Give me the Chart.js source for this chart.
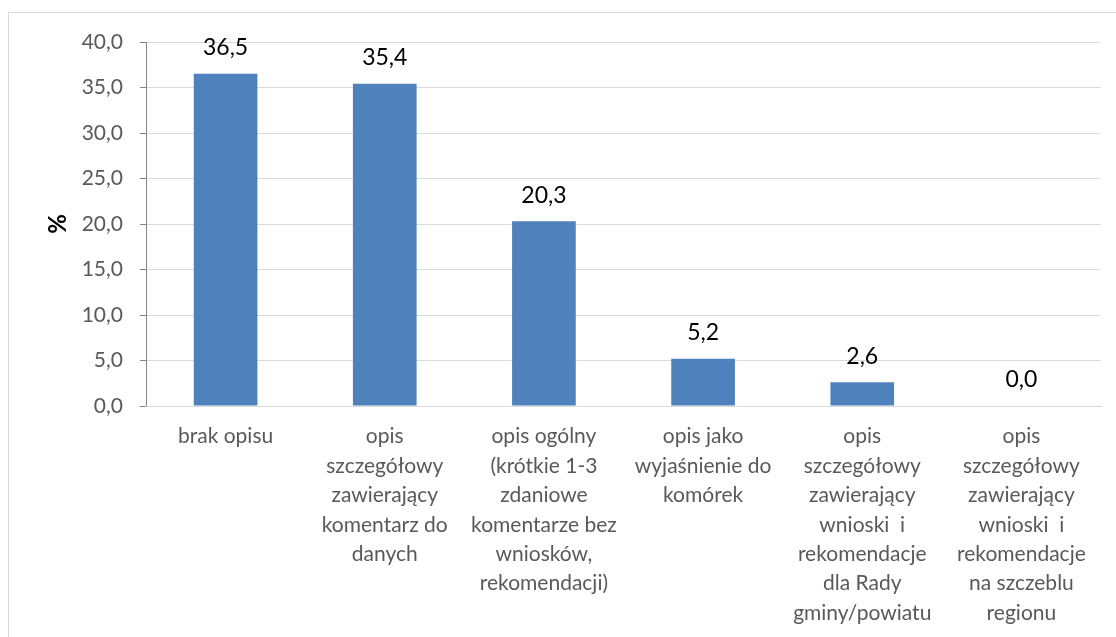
<!DOCTYPE html>
<html>
<head>
<meta charset="utf-8">
<script src="https://cdn.jsdelivr.net/npm/chart.js@4"></script>
<style>
html,body{margin:0;padding:0;background:#fff;}
#wrap{position:relative;width:1116px;height:637px;}
#frame{position:absolute;left:8px;top:12px;width:1120px;height:700px;border:1px solid #D9D9D9;box-sizing:border-box;}
canvas{position:absolute;left:0;top:0;}
</style>
</head>
<body>
<div id="wrap"><div id="frame"></div><canvas id="c" width="1116" height="637"></canvas></div>
<script>
const categories = [
  ["brak opisu"],
  ["opis", "szczegółowy", "zawierający", "komentarz do", "danych"],
  ["opis ogólny", "(krótkie 1-3", "zdaniowe", "komentarze bez", "wniosków,", "rekomendacji)"],
  ["opis jako", "wyjaśnienie do", "komórek"],
  ["opis", "szczegółowy", "zawierający", "wnioski  i", "rekomendacje", "dla Rady", "gminy/powiatu"],
  ["opis", "szczegółowy", "zawierający", "wnioski  i", "rekomendacje", "na szczeblu", "regionu"]
];
const values = [36.5, 35.4, 20.3, 5.2, 2.6, 0.0];
const yTicks = [0, 5, 10, 15, 20, 25, 30, 35, 40];
const yTitle = "%";

const fmt = v => v.toFixed(1).replace('.', ',');

const dataLabels = {
  id: 'dataLabels',
  afterDatasetsDraw(chart) {
    const ctx = chart.ctx;
    const meta = chart.getDatasetMeta(0);
    ctx.save();
    ctx.font = '23px Lato';
    ctx.fillStyle = '#000';
    ctx.textAlign = 'center';
    ctx.textBaseline = 'middle';
    meta.data.forEach((bar, i) => {
      ctx.fillText(fmt(values[i]), bar.x, bar.y - 26);
    });
    ctx.restore();
  }
};

new Chart(document.getElementById('c'), {
  type: 'bar',
  data: {
    labels: categories,
    datasets: [{
      data: values,
      backgroundColor: '#4F81BD',
      categoryPercentage: 1.0,
      barPercentage: 0.4
    }]
  },
  options: {
    responsive: false,
    animation: false,
    layout: { padding: { left: 0, top: 42, right: 15, bottom: 0 } },
    plugins: { legend: { display: false }, tooltip: { enabled: false } },
    scales: {
      y: {
        min: 0, max: 40,
        afterBuildTicks(scale) { scale.ticks = yTicks.map(v => ({ value: v })); },
        afterFit(scale) { scale.width = 146; },
        ticks: {
          callback: v => fmt(v),
          font: { family: 'Lato', size: 21 },
          color: '#595959',
          padding: 17
        },
        grid: { color: '#D9D9D9', tickColor: '#868686', tickLength: 6, lineWidth: 1 },
        border: { color: '#868686' },
        title: {
          display: true, text: yTitle,
          font: { family: 'Lato', size: 24, weight: 'bold' },
          color: '#000',
          padding: { top: 44, bottom: 0 }
        }
      },
      x: {
        afterFit(scale) { scale.height = 231; },
        ticks: {
          font: { family: 'Lato', size: 21, lineHeight: 1.4 },
          color: '#595959',
          padding: 8,
          maxRotation: 0,
          autoSkip: false
        },
        grid: { display: false },
        border: { color: '#D9D9D9' }
      }
    }
  },
  plugins: [dataLabels]
});
</script>
</body>
</html>
